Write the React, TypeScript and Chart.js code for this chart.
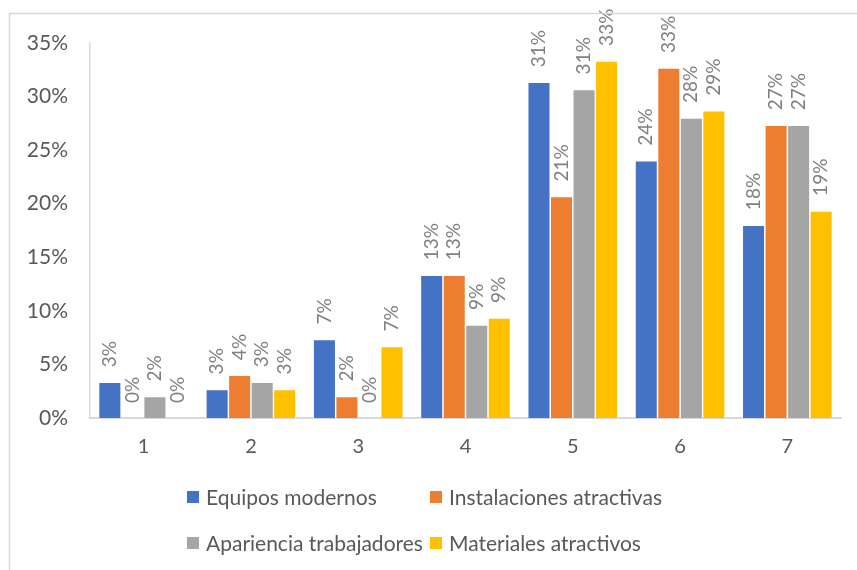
import React, { useEffect, useRef } from "react";
import { Chart, registerables } from "chart.js";

Chart.register(...registerables);

const categories = ["1", "2", "3", "4", "5", "6", "7"];
const seriesNames = [
  "Equipos modernos",
  "Instalaciones atractivas",
  "Apariencia trabajadores",
  "Materiales atractivos",
];
const equiposModernos = [3.33, 2.67, 7.33, 13.33, 31.33, 24.0, 18.0];
const instalacionesAtractivas = [0, 4.0, 2.0, 13.33, 20.67, 32.67, 27.33];
const aparienciaTrabajadores = [2.0, 3.33, 0, 8.67, 30.67, 28.0, 27.33];
const materialesAtractivos = [0, 2.67, 6.67, 9.33, 33.33, 28.67, 19.33];
const seriesColors = ["#4472C4", "#ED7D31", "#A5A5A5", "#FFC000"];
const yMax = 35;
const yStep = 5;

const FONT = "Lato, 'Open Sans', sans-serif";

const labelsPlugin = {
  id: "rotatedLabels",
  afterDatasetsDraw(chart: any) {
    const ctx = chart.ctx;
    ctx.save();
    ctx.font = `19px ${FONT}`;
    ctx.fillStyle = "#808080";
    ctx.textAlign = "left";
    ctx.textBaseline = "middle";
    chart.data.datasets.forEach((ds: any, di: number) => {
      const meta = chart.getDatasetMeta(di);
      meta.data.forEach((el: any, i: number) => {
        const v = ds.data[i];
        const txt = Math.round(v) + "%";
        ctx.save();
        ctx.translate(el.x, el.y - 15);
        ctx.rotate(-Math.PI / 2);
        ctx.fillText(txt, 0, 0);
        ctx.restore();
      });
    });
    ctx.restore();
  },
};

const framePlugin = {
  id: "frameAndLegend",
  afterDraw(chart: any) {
    const ctx = chart.ctx;
    ctx.save();
    ctx.strokeStyle = "#D9D9D9";
    ctx.lineWidth = 1.5;
    ctx.beginPath();
    ctx.moveTo(9.5, 600);
    ctx.lineTo(9.5, 13.5);
    ctx.lineTo(900, 13.5);
    ctx.stroke();

    const cols = [187, 430];
    const rows = [497, 543];
    ctx.font = `21px ${FONT}`;
    ctx.textBaseline = "middle";
    ctx.textAlign = "left";
    seriesNames.forEach((name, i) => {
      const x = cols[i % 2];
      const y = rows[Math.floor(i / 2)];
      ctx.fillStyle = seriesColors[i];
      ctx.fillRect(x, y - 6, 12, 12);
      ctx.fillStyle = "#595959";
      ctx.fillText(name, x + 19, y + 1);
    });
    ctx.restore();
  },
};

export default function App() {
  const ref = useRef<HTMLCanvasElement | null>(null);
  useEffect(() => {
    if (!ref.current) return;
    const seriesData = [
      equiposModernos,
      instalacionesAtractivas,
      aparienciaTrabajadores,
      materialesAtractivos,
    ];
    const chart = new Chart(ref.current, {
      type: "bar",
      data: {
        labels: categories,
        datasets: seriesNames.map((name, i) => ({
          label: name,
          data: seriesData[i],
          backgroundColor: seriesColors[i],
          borderColor: "#FFFFFF",
          borderWidth: 0.75,
          categoryPercentage: 0.84,
          barPercentage: 1.0,
        })),
      },
      options: {
        responsive: false,
        animation: false,
        devicePixelRatio: 1,
        layout: { padding: { top: 43, left: 10, right: 16, bottom: 0 } },
        plugins: {
          legend: { display: false },
          tooltip: { enabled: false },
        },
        scales: {
          x: {
            grid: { display: false, drawTicks: false },
            border: { display: true, color: "#D9D9D9", width: 2 },
            ticks: {
              color: "#595959",
              font: { family: FONT, size: 20 },
              padding: 17,
            },
            afterFit(scale: any) {
              scale.height = 152;
            },
          },
          y: {
            min: 0,
            max: yMax,
            grid: { display: false, drawTicks: false },
            border: { display: true, color: "#D9D9D9", width: 1.5 },
            ticks: {
              stepSize: yStep,
              color: "#595959",
              font: { family: FONT, size: 21 },
              padding: 22,
              callback: (v: any) => v + "%",
            },
            afterFit(scale: any) {
              scale.width = 80;
            },
          },
        },
      },
      plugins: [labelsPlugin, framePlugin],
    } as any);
    return () => chart.destroy();
  }, []);
  return (
    <div style={{ position: "fixed", left: 0, top: 0, width: 857, height: 570, background: "#fff" }}>
      <canvas ref={ref} width={857} height={570} style={{ display: "block" }} />
    </div>
  );
}
